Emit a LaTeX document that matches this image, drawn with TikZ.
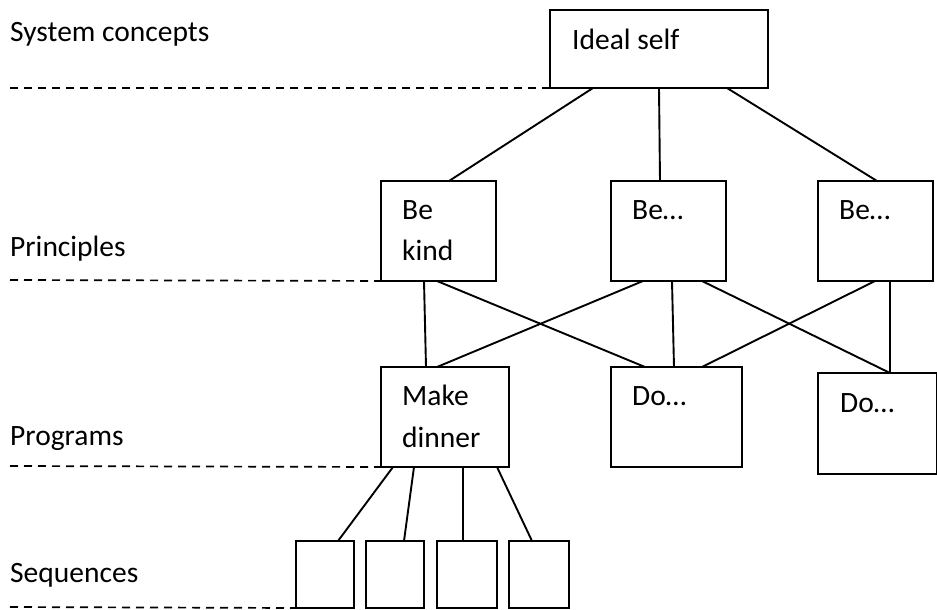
\documentclass[tikz,border=0pt]{standalone}
\usepackage{fontspec}
\setmainfont{Carlito}
\begin{document}
\begin{tikzpicture}[x=1pt,y=-1pt,
  box/.style={draw=black,line width=2pt,inner sep=0pt,outer sep=0pt,fill=none},
  txt/.style={anchor=base west,inner sep=0pt,font=\fontsize{29.5}{41}\selectfont},
  conn/.style={draw=black,line width=1.9pt},
  level/.style={draw=black,line width=1.7pt,dash pattern=on 8pt off 6pt}]
\useasboundingbox[fill=white] (0,0) rectangle (937,610);
% boxes
\node[box,minimum width=218pt,minimum height=78pt] (ideal) at (659,49) {};
\node[box,minimum width=115pt,minimum height=100pt] (bek) at (438.5,231) {};
\node[box,minimum width=115pt,minimum height=100pt] (be2) at (668.5,231) {};
\node[box,minimum width=115pt,minimum height=100pt] (be3) at (875.5,231) {};
\node[box,minimum width=128pt,minimum height=100pt] (make) at (445,417) {};
\node[box,minimum width=131pt,minimum height=100pt] (do2) at (676.5,417) {};
\node[box,minimum width=119pt,minimum height=101pt] (do3) at (877.5,423.5) {};
\node[box,minimum width=58pt,minimum height=67pt] (s1) at (325,574.5) {};
\node[box,minimum width=58pt,minimum height=67pt] (s2) at (395,574.5) {};
\node[box,minimum width=60pt,minimum height=67pt] (s3) at (467,574.5) {};
\node[box,minimum width=60pt,minimum height=67pt] (s4) at (539,574.5) {};
% box texts
\node[txt] (tideal) at (572,49) {Ideal self};
\node[txt] (tbek1) at (402,219) {Be};
\node[txt] (tbek2) at (402,260) {kind};
\node[txt] (tbe2) at (632,219) {Be…};
\node[txt] (tbe3) at (839,219) {Be…};
\node[txt] (tmake1) at (402,405) {Make};
\node[txt] (tmake2) at (402,447) {dinner};
\node[txt] (tdo2) at (632,405) {Do…};
\node[txt] (tdo3) at (840,412) {Do…};
% level labels
\node[txt] (lsys) at (10,42) {System concepts};
\node[txt] (lpri) at (10,256) {Principles};
\node[txt] (lpro) at (10,445) {Programs};
\node[txt] (lseq) at (10,582) {Sequences};
% dashed level lines
\coordinate (d1) at (10,88);
\coordinate (d2) at (10,280);
\coordinate (d3) at (10,466);
\coordinate (d4) at (10,607);
\draw[level] (d1) -- (ideal.south west);
\draw[level] (d2) -- ([xshift=12pt]bek.south west);
\draw[level] (d3) -- (make.south west);
\draw[level] (d4) -- (s1.south west);
% connectors
\draw[conn] ([xshift=43pt]ideal.south west) -- ([xshift=68pt]bek.north west);
\draw[conn] ([xshift=109pt]ideal.south west) -- ([xshift=49pt]be2.north west);
\draw[conn] ([xshift=177pt]ideal.south west) -- ([xshift=59pt]be3.north west);
\draw[conn] ([xshift=43pt]bek.south west) -- ([xshift=45pt]make.north west);
\draw[conn] ([xshift=56pt]bek.south west) -- ([xshift=34pt]do2.north west);
\draw[conn] ([xshift=32pt]be2.south west) -- ([xshift=56pt]make.north west);
\draw[conn] ([xshift=61pt]be2.south west) -- ([xshift=63pt]do2.north west);
\draw[conn] ([xshift=91pt]be2.south west) -- ([xshift=72pt]do3.north west);
\draw[conn] ([xshift=57pt]be3.south west) -- ([xshift=91pt]do2.north west);
\draw[conn] ([xshift=72pt]be3.south west) -- ([xshift=72pt]do3.north west);
\draw[conn] ([xshift=12pt]make.south west) -- ([xshift=42pt]s1.north west);
\draw[conn] ([xshift=33pt]make.south west) -- ([xshift=38pt]s2.north west);
\draw[conn] ([xshift=82pt]make.south west) -- ([xshift=26pt]s3.north west);
\draw[conn] ([xshift=116pt]make.south west) -- ([xshift=23pt]s4.north west);
\end{tikzpicture}
\end{document}
